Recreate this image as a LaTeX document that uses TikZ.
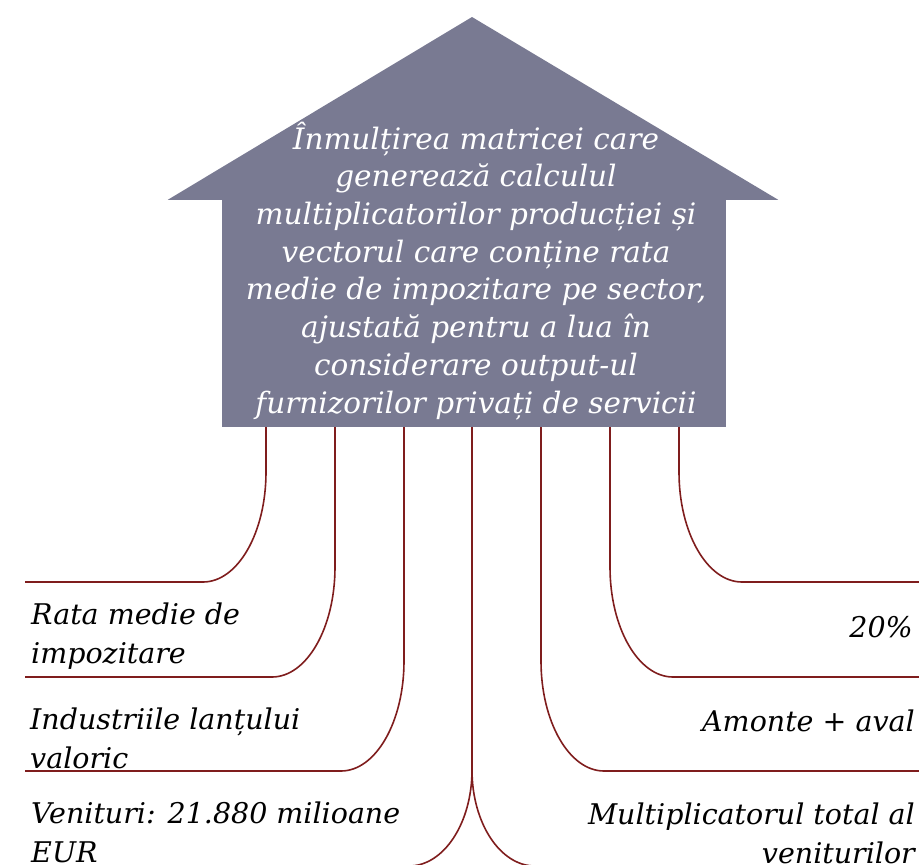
\documentclass[tikz,border=0pt]{standalone}
\usepackage{fontspec}
\setmainfont{DejaVu Serif}
\usetikzlibrary{calc}
\definecolor{housegray}{HTML}{797A92}
\definecolor{wirered}{HTML}{7F1D1D}

\begin{document}
\begin{tikzpicture}[
    x=1pt, y=-1pt,
    font=\itshape\fontsize{28.5}{38.5}\selectfont,
    body/.style={
        fill=housegray,
        minimum width=504pt,
        minimum height=227pt,
        inner sep=0pt
    },
    wire/.style={
        draw=wirered,
        line width=1.6pt
    },
    leftlab/.style={anchor=base west, align=left, inner sep=0pt},
    rightlab/.style={anchor=base east, align=right, inner sep=0pt}
]
\useasboundingbox (0,0) rectangle (919,865);
\clip (0,0) rectangle (919,865);

% House
\node[body] (body) at (474,313.5) {};
\coordinate (apex) at (472,17);
\fill[housegray] (body.north west) -- ++(-54,0) -- (apex)
    -- ($(body.north east)+(52,0)$) -- (body.north east) -- cycle;
\node[text=white, align=center, anchor=base, inner sep=0pt,
    font=\itshape\fontsize{29.5}{37.7}\selectfont] (desc) at (476,413)
    {Înmulțirea matricei care\\generează calculul\\multiplicatorilor producției și\\vectorul care conține rata\\medie de impozitare pe sector,\\ajustată pentru a lua în\\considerare output-ul\\furnizorilor privați de servicii};

% Label ends
\coordinate (l1) at (25,582);
\coordinate (l2) at (25,677);
\coordinate (l3) at (25,771);
\coordinate (r1) at (919,582);
\coordinate (r2) at (919,677);
\coordinate (r3) at (919,771);

% Wires to the left
\foreach \x/\e in {266/l1,335/l2,404/l3} {
    \draw[wire] (body.south -| \x,0) -- ($(\e -| \x,0)+(0,-110)$)
        arc[start angle=0, end angle=90, x radius=63, y radius=110] -- (\e);
}
% Wires to the right
\foreach \x/\e in {679/r1,610/r2,541/r3} {
    \draw[wire] (body.south -| \x,0) -- ($(\e -| \x,0)+(0,-110)$)
        arc[start angle=180, end angle=90, x radius=63, y radius=110] -- (\e);
}
% Middle wire
\coordinate (mid) at (472,770);
\draw[wire] (body.south -| mid) -- (mid)
    arc[start angle=0, end angle=90, x radius=63, y radius=96];
\draw[wire] (mid)
    arc[start angle=180, end angle=90, x radius=63, y radius=96];

% Labels
\node[leftlab] (lab1) at (31,663) {Rata medie de\\impozitare};
\node[leftlab] (lab2) at (30,768) {Industriile lanțului\\valoric};
\node[leftlab] (lab3) at (31,862) {Venituri: 21.880 milioane\\EUR};
\node[rightlab] (lab4) at (913,637) {20\%};
\node[rightlab] (lab5) at (915,731) {Amonte + aval};
\node[rightlab] (lab6) at (915,863) {Multiplicatorul total al\\veniturilor};

\end{tikzpicture}
\end{document}
